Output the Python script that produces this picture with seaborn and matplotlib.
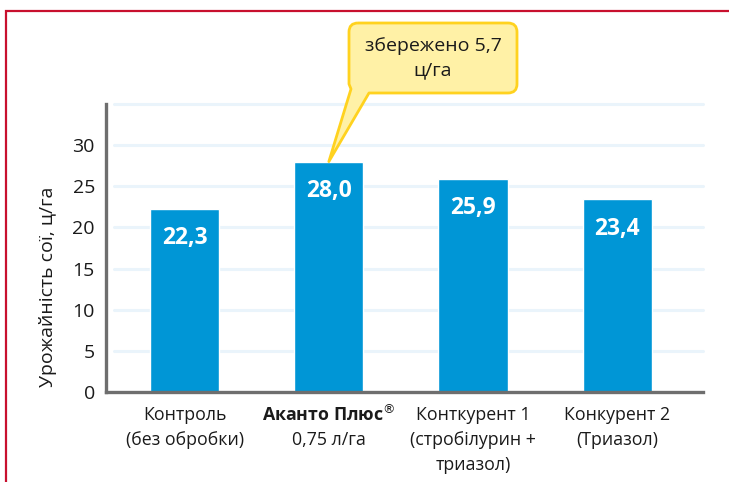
import matplotlib
matplotlib.use("Agg")
import matplotlib.pyplot as plt
import matplotlib.transforms as mtransforms
from matplotlib.path import Path
from matplotlib.patches import PathPatch, Rectangle
import seaborn as sns
import pandas as pd

categories = ["Контроль", "Аканто Плюс$^{\\circledR}$", "Конткурент 1", "Конкурент 2"]
subtitles = [["(без обробки)"], ["0,75 л/га"], ["(стробілурин +", "триазол)"], ["(Триазол)"]]
values = [22.3, 28.0, 25.9, 23.4]
yticks = [0, 5, 10, 15, 20, 25, 30]
ylabel = "Урожайність сої, ц/га"
callout = "збережено 5,7\nц/га"

sns.set_theme(style="white")
plt.rcParams["font.family"] = ["Open Sans", "DejaVu Sans"]
plt.rcParams["mathtext.fontset"] = "dejavusans"

W, H = 729, 482
fig = plt.figure(figsize=(W / 100, H / 100), dpi=100)
ax = fig.add_axes([106 / W, 1 - 392 / H, (703 - 106) / W, (392 - 104) / H])

df = pd.DataFrame({"cat": categories, "val": values})
sns.barplot(data=df, x="cat", y="val", color="#0096D6", saturation=1, width=0.48, ax=ax, zorder=3)

ax.set_ylim(0, 35)
ax.set_xlim(-0.545, 3.594)
ax.set_yticks(yticks)
ax.set_yticklabels([str(t) for t in yticks], fontsize=14, color="#1A1A1A")
ax.set_yticks([35], minor=True)
ax.tick_params(axis="y", which="major", length=0, pad=8)
ax.tick_params(axis="y", which="minor", direction="in", length=6, width=2.2, color="#6E6E6E")
ax.tick_params(axis="x", length=0)
ax.set_xticks(range(len(categories)))
ax.set_xticklabels([])
ax.set_xlabel("")
ax.set_ylabel(ylabel, fontsize=14, color="#1A1A1A")
ax.yaxis.set_label_coords(-0.082, 0.365)

for t in yticks + [35]:
    if t == 0:
        continue
    ax.axhline(t, xmin=0.013, color="#EAF4FB", lw=2.2, zorder=1, clip_on=False)

for s in ["top", "right"]:
    ax.spines[s].set_visible(False)
for s in ["left", "bottom"]:
    ax.spines[s].set_color("#6E6E6E")
    ax.spines[s].set_linewidth(2.4)
    ax.spines[s].set_zorder(4)

# value labels
for i, v in enumerate(values):
    ax.annotate(f"{v:.1f}".replace(".", ","), (i, v), xytext=(0, -21), textcoords="offset points",
                ha="center", va="center", color="white", fontsize=16.5, fontweight="bold", zorder=5)

# category labels
tr = mtransforms.blended_transform_factory(ax.transData, fig.transFigure)
for i, (c, subs) in enumerate(zip(categories, subtitles)):
    lines = [c] + subs
    for j, line in enumerate(lines):
        fw = "bold" if (i == 1 and j == 0) else "normal"
        fig.text(i, 1 - (415 + 25 * j) / H, line, transform=tr, ha="center", va="center",
                 fontsize=12.8, fontweight=fw, color="#1A1A1A")

# callout bubble
tip = fig.transFigure.inverted().transform(ax.transData.transform((1, values[1])))
tipx, tipy = tip[0] * W, (1 - tip[1]) * H
x0, y0, x1, y1, r = 349, 23, 517, 93, 9
pts = [(x0 + r, y0), (x1 - r, y0), (x1, y0), (x1, y0 + r), (x1, y1 - r), (x1, y1), (x1 - r, y1),
       (369, y1), (tipx, tipy), (351, y1 - 4), (x0, y1 - r), (x0, y0 + r), (x0, y0), (x0 + r, y0)]
codes = [Path.MOVETO, Path.LINETO, Path.CURVE3, Path.CURVE3, Path.LINETO, Path.CURVE3, Path.CURVE3,
         Path.LINETO, Path.LINETO, Path.LINETO, Path.LINETO, Path.LINETO, Path.CURVE3, Path.CURVE3]
fpts = [(px / W, 1 - py / H) for px, py in pts]
patch = PathPatch(Path(fpts, codes), facecolor="#FFF1A6", edgecolor="#FFD21F", lw=2,
                  transform=fig.transFigure, zorder=6, joinstyle="round")
fig.patches.append(patch)
fig.text((x0 + x1) / 2 / W, 1 - 58 / H, callout, ha="center", va="center", fontsize=14,
         color="#1A1A1A", linespacing=1.45, zorder=7)

# red frame
fig.patches.append(Rectangle((6 / W, -0.1), 2, 1 - 11 / H + 0.1, transform=fig.transFigure,
                             fill=False, edgecolor="#C8102E", lw=1.6))

fig.savefig("out.png", dpi=100)
